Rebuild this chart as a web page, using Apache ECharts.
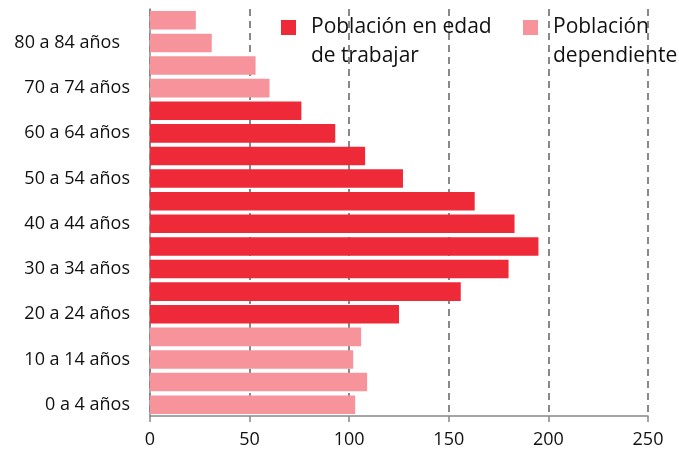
<!DOCTYPE html>
<html>
<head>
<meta charset="utf-8">
<script src="https://cdn.jsdelivr.net/npm/echarts@6/dist/echarts.min.js"></script>
<style>
  html, body { margin: 0; padding: 0; background: #fff; }
  #main { width: 679px; height: 454px; }
</style>
</head>
<body>
<div id="main"></div>
<script>
// grupos de edad, de abajo hacia arriba
var grupos = ['0 a 4 años', '5 a 9 años', '10 a 14 años', '15 a 19 años', '20 a 24 años',
  '25 a 29 años', '30 a 34 años', '35 a 39 años', '40 a 44 años', '45 a 49 años',
  '50 a 54 años', '55 a 59 años', '60 a 64 años', '65 a 69 años', '70 a 74 años',
  '75 a 79 años', '80 a 84 años', '85 años y más'];
// '-' = sin barra en esa serie
var trabajar = ['-', '-', '-', '-', 125, 156, 180, 195, 183, 163, 127, 108, 93, 76, '-', '-', '-', '-'];
var dependiente = [103, 109, 102, 106, '-', '-', '-', '-', '-', '-', '-', '-', '-', '-', 60, 53, 31, 23];
var ticks = [0, 50, 100, 150, 200, 250];

var font = 'Open Sans';
var chart = echarts.init(document.getElementById('main'));

var legendText = {
  fontFamily: font,
  fontSize: 21,
  color: '#111',
  lineHeight: 29,
  padding: [0, 0, 0, 10]
};
// linea vacia arriba: asi la primera linea del texto queda a la altura del cuadrito
var legendFmt = function (name) { return '\n' + name; };

chart.setOption({
  animation: false,
  grid: { left: 150, right: 31, top: 9, bottom: 38 },
  legend: [
    {
      data: ['Población en edad\nde trabajar'],
      left: 281, top: -16, padding: 0,
      itemWidth: 15, itemHeight: 15,
      icon: 'rect',
      formatter: legendFmt,
      textStyle: legendText
    },
    {
      data: ['Población\ndependiente'],
      left: 523, top: -16, padding: 0,
      itemWidth: 15, itemHeight: 15,
      icon: 'rect',
      formatter: legendFmt,
      textStyle: legendText
    }
  ],
  xAxis: {
    type: 'value',
    min: ticks[0],
    max: ticks[ticks.length - 1],
    interval: 50,
    axisLine: { show: true, lineStyle: { color: '#888', width: 1.5 } },
    axisTick: { show: true, length: 6, lineStyle: { color: '#888', width: 1.5 } },
    axisLabel: { fontFamily: font, fontSize: 18, color: '#111', margin: 15 },
    splitLine: {
      show: true,
      lineStyle: { color: '#888', width: 2, type: [7, 5] }
    }
  },
  yAxis: {
    type: 'category',
    data: grupos,
    axisLine: { show: true, lineStyle: { color: '#888', width: 1.5 } },
    axisTick: { show: false },
    axisLabel: {
      interval: 1,
      fontFamily: font,
      fontSize: 18,
      color: '#111',
      margin: 20,
      formatter: function (v) {
        // en el original esta etiqueta queda un poco corrida a la izquierda
        return v === '80 a 84 años' ? '{s|' + v + '}' : v;
      },
      rich: { s: { fontFamily: font, fontSize: 18, color: '#111', padding: [0, 10, 0, 0] } }
    }
  },
  series: [
    {
      name: 'Población en edad\nde trabajar',
      type: 'bar',
      stack: 'total',
      barCategoryGap: '18%',
      itemStyle: { color: '#EE2A39' },
      data: trabajar
    },
    {
      name: 'Población\ndependiente',
      type: 'bar',
      stack: 'total',
      barCategoryGap: '18%',
      itemStyle: { color: '#F6939B' },
      data: dependiente
    }
  ]
});
</script>
</body>
</html>
